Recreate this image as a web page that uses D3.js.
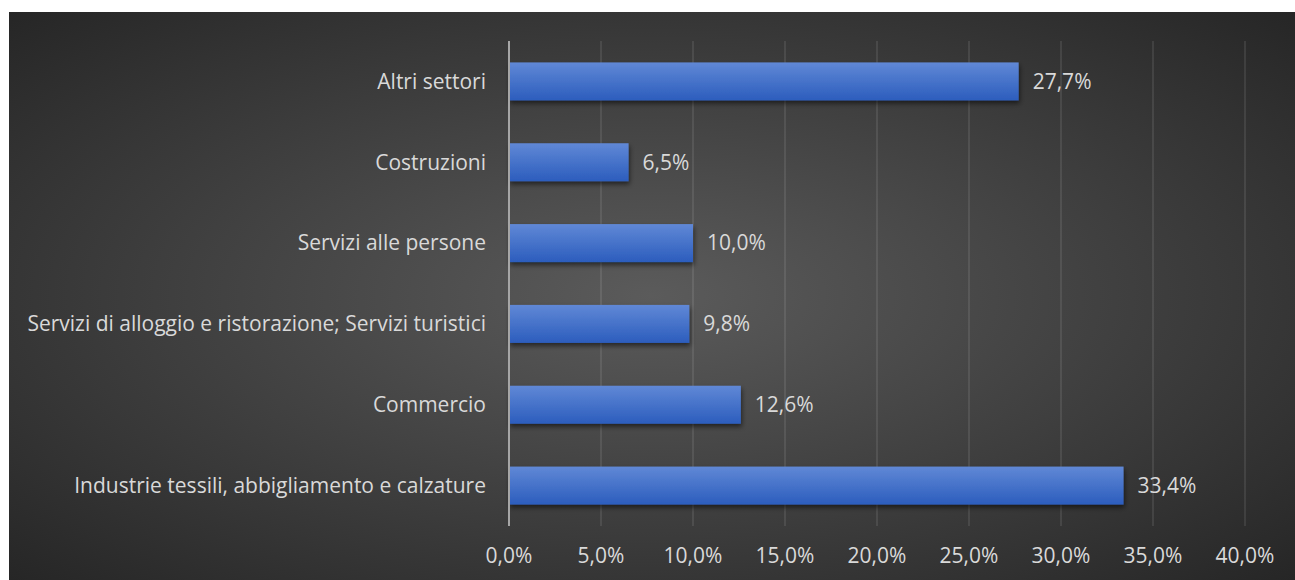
<!DOCTYPE html>
<html>
<head>
<meta charset="utf-8">
<script src="https://cdn.jsdelivr.net/npm/d3@7"></script>
<style>
  html, body { margin: 0; padding: 0; background: #ffffff; }
  svg { display: block; }
  text { font-family: "Open Sans", Lato, sans-serif; fill: #d9d9d9; }
</style>
</head>
<body>
<svg id="chart" width="1295" height="580"></svg>
<script>
// Sectors, listed top to bottom
const categories = [
  "Altri settori",
  "Costruzioni",
  "Servizi alle persone",
  "Servizi di alloggio e ristorazione; Servizi turistici",
  "Commercio",
  "Industrie tessili, abbigliamento e calzature"
];
// Share of each sector (fraction)
const values = [0.277, 0.065, 0.100, 0.098, 0.126, 0.334];
// Horizontal axis ticks
const tickValues = [0, 0.05, 0.10, 0.15, 0.20, 0.25, 0.30, 0.35, 0.40];

const it = d3.formatLocale({ decimal: ",", thousands: ".", grouping: [3], currency: ["", " €"] });
const pct = it.format(".1%");

const svg = d3.select("#chart");
const W = 1295, H = 580;
const panel = { x: 9, y: 12, w: W - 9, h: H - 12 };
const plot = { left: 509, right: 1245, top: 41, bottom: 526 };
const fontSize = 21;

const defs = svg.append("defs");

// Dark panel with a lighter centre
const bg = defs.append("radialGradient").attr("id", "bgGrad")
  .attr("cx", 0.5).attr("cy", 0.5).attr("r", 0.72);
bg.append("stop").attr("offset", "0%").attr("stop-color", "#5b5b5b");
bg.append("stop").attr("offset", "100%").attr("stop-color", "#252525");

// Bar fill: lighter top, deeper blue bottom
const barGrad = defs.append("linearGradient").attr("id", "barGrad")
  .attr("x1", 0).attr("y1", 0).attr("x2", 0).attr("y2", 1);
barGrad.append("stop").attr("offset", "0%").attr("stop-color", "#6088d6");
barGrad.append("stop").attr("offset", "100%").attr("stop-color", "#2c5dbd");

const shadow = defs.append("filter").attr("id", "barShadow")
  .attr("x", "-5%").attr("y", "-30%").attr("width", "115%").attr("height", "170%");
shadow.append("feDropShadow").attr("dx", 1).attr("dy", 3)
  .attr("stdDeviation", 2.5).attr("flood-color", "#000").attr("flood-opacity", 0.55);

svg.append("rect")
  .attr("x", panel.x).attr("y", panel.y)
  .attr("width", panel.w).attr("height", panel.h)
  .attr("fill", "url(#bgGrad)");

const x = d3.scaleLinear().domain([0, 0.4]).range([plot.left, plot.right]);
const y = d3.scaleBand().domain(categories)
  .range([plot.top, plot.bottom])
  .paddingInner(0.53).paddingOuter(0.265);

// Vertical gridlines
svg.append("g").selectAll("line")
  .data(tickValues.filter(d => d > 0))
  .join("line")
  .attr("x1", d => x(d)).attr("x2", d => x(d))
  .attr("y1", plot.top).attr("y2", plot.bottom)
  .attr("stroke", "#ffffff").attr("stroke-opacity", 0.12).attr("stroke-width", 1.5);

// Bars
svg.append("g").selectAll("rect")
  .data(categories)
  .join("rect")
  .attr("x", x(0))
  .attr("y", d => y(d))
  .attr("width", (d, i) => x(values[i]) - x(0))
  .attr("height", y.bandwidth())
  .attr("fill", "url(#barGrad)")
  .attr("filter", "url(#barShadow)");

// Category axis line
svg.append("line")
  .attr("x1", x(0)).attr("x2", x(0))
  .attr("y1", plot.top).attr("y2", plot.bottom)
  .attr("stroke", "#a6a6a6").attr("stroke-width", 2);

// Category labels
svg.append("g").selectAll("text")
  .data(categories)
  .join("text")
  .attr("x", x(0) - 23)
  .attr("y", d => y(d) + y.bandwidth() / 2)
  .attr("dy", "0.35em")
  .attr("text-anchor", "end")
  .attr("font-size", fontSize)
  .text(d => d);

// Value labels
svg.append("g").selectAll("text")
  .data(categories)
  .join("text")
  .attr("x", (d, i) => x(values[i]) + 14)
  .attr("y", d => y(d) + y.bandwidth() / 2)
  .attr("dy", "0.35em")
  .attr("font-size", fontSize)
  .text((d, i) => pct(values[i]));

// Value axis tick labels
svg.append("g").selectAll("text")
  .data(tickValues)
  .join("text")
  .attr("x", d => x(d))
  .attr("y", 556)
  .attr("dy", "0.35em")
  .attr("text-anchor", "middle")
  .attr("font-size", fontSize)
  .text(d => pct(d));
</script>
</body>
</html>
